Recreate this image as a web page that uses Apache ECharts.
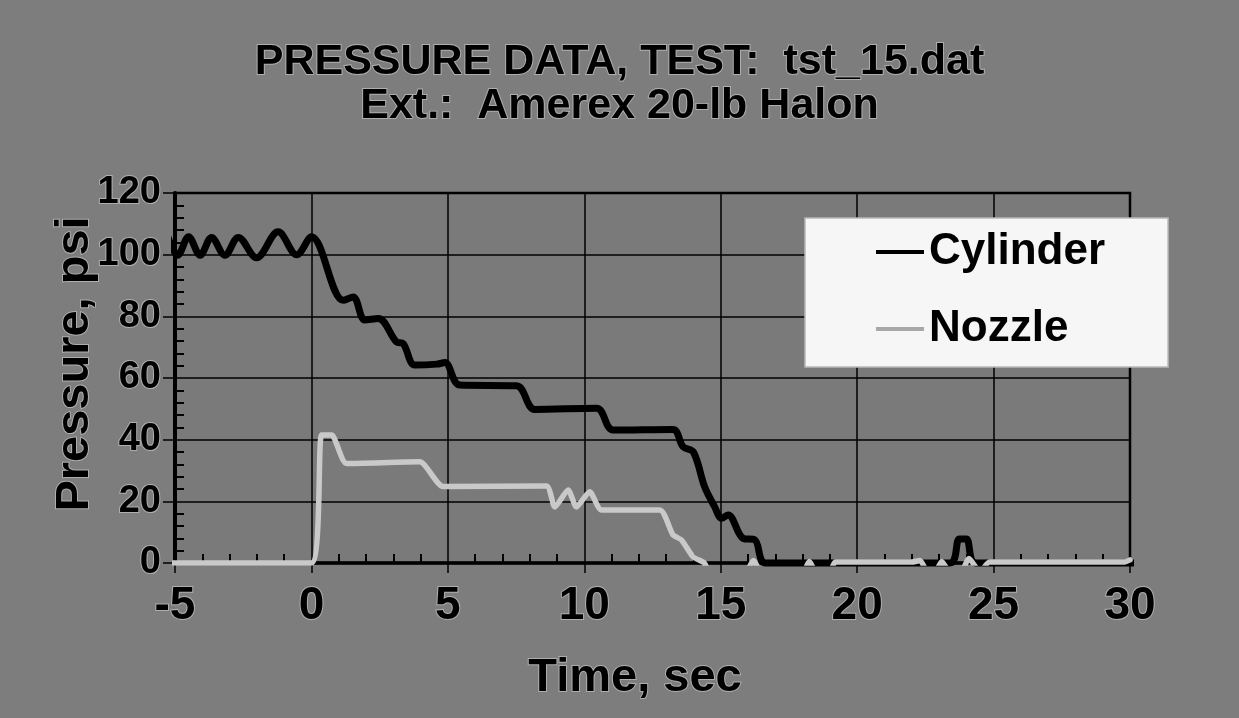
<!DOCTYPE html>
<html>
<head>
<meta charset="utf-8">
<script src="https://cdn.jsdelivr.net/npm/echarts@6/dist/echarts.min.js"></script>
<style>
html,body{margin:0;padding:0;background:#7d7d7d;}
#c{width:1239px;height:718px;}
</style>
</head>
<body>
<div id="c"></div>
<script>
// ---- data ----
const titleLines = ['PRESSURE DATA, TEST:  tst_15.dat', 'Ext.:  Amerex 20-lb Halon'];
const seriesNames = ['Cylinder', 'Nozzle'];
const xTicks = [-5, 0, 5, 10, 15, 20, 25, 30];
const yTicks = [0, 20, 40, 60, 80, 100, 120];

const cylTime = [-5.25, -4.9, -4.5, -4.08, -3.66, -3.17, -2.68, -2.01, -1.22, -0.54, 0.0,
  1.17, 1.53, 1.96, 2.45, 3.12, 3.36, 3.79, 4.6, 4.89, 5.44, 7.52, 8.19, 10.45, 11.06,
  13.25, 13.62, 14.0, 14.41, 14.78, 15.03, 15.27, 15.82, 16.25, 16.65, 23.4, 23.75, 24.0, 24.35, 30.2];
const cylPressure = [105.5, 99.8, 105.8, 99.8, 105.6, 99.8, 105.6, 99.0, 107.4, 100.0, 105.8,
  85.2, 86.3, 78.8, 79.3, 71.7, 71.2, 64.2, 64.5, 65.0, 57.7, 57.5, 49.8, 50.2, 43.1,
  43.3, 37.7, 36.0, 24.7, 18.2, 14.5, 15.6, 8.0, 7.5, 0, 0, 7.8, 7.8, 0, 0];

const nozTime = [-5.25, 0.0, 0.37, 0.74, 1.29, 3.97, 4.83, 8.61, 8.92, 9.41, 9.71, 10.2, 10.63,
  12.77, 13.25, 13.56, 13.99, 14.4, 14.6, 15.9, 16.2, 16.5, 18.0, 18.25, 18.5, 19.0, 19.2,
  22.0, 22.3, 22.6, 22.85, 23.1, 23.4, 23.8, 24.1, 24.5, 24.85, 29.8, 30.0];
const nozPressure = [0, 0, 41.5, 41.5, 32.3, 32.8, 24.8, 25.0, 18.2, 23.7, 18.2, 23.1, 17.2,
  17.2, 9.1, 7.5, 2.0, 0, -3, -3, 0.8, -3, -3, 0.5, -3, -3, 0.3,
  0.3, 0.8, -3, -3, 0.5, -3, -3, 1.5, -3, 0.3, 0.3, 1.0];

// ---- chart ----
const FONT = "'Liberation Sans', Arial, Helvetica, sans-serif";
const halo = { textBorderColor: 'rgba(215,215,215,0.55)', textBorderWidth: 2 };
const zip = (a, b) => a.map((v, i) => [v, b[i]]);

const chart = echarts.init(document.getElementById('c'), null, { renderer: 'canvas' });
chart.setOption({
  animation: false,
  backgroundColor: '#7d7d7d',
  title: {
    text: titleLines.join('\n'),
    left: 'center',
    top: 40,
    padding: 0,
    textStyle: Object.assign({ fontFamily: FONT, fontWeight: 'bold', fontSize: 43, lineHeight: 44, color: '#000' }, halo)
  },
  legend: {
    orient: 'vertical',
    left: 805,
    top: 218,
    backgroundColor: '#f6f6f6',
    borderColor: '#b8b8b8',
    borderWidth: 1.5,
    borderRadius: 0,
    padding: [9, 63, 13, 71],
    itemGap: 27,
    itemWidth: 48,
    itemHeight: 4,
    icon: 'rect',
    textStyle: { fontFamily: FONT, fontWeight: 'bold', fontSize: 44, lineHeight: 50, color: '#000' },
    data: [
      { name: seriesNames[0], itemStyle: { color: '#000' } },
      { name: seriesNames[1], itemStyle: { color: '#a8a8a8' } }
    ]
  },
  grid: {
    left: 175, right: 109, top: 193, bottom: 155,
    show: true, backgroundColor: '#7a7a7a', borderColor: '#000', borderWidth: 2.5
  },
  xAxis: [{
    type: 'value', min: xTicks[0], max: xTicks[xTicks.length - 1], interval: 5,
    name: 'Time, sec', nameLocation: 'middle', nameGap: 92, nameMoveOverlap: false,
    nameTextStyle: Object.assign({ fontFamily: FONT, fontWeight: 'bold', fontSize: 47, color: '#000', padding: [0, 35, 0, 0] }, halo),
    axisLine: { show: true, onZero: false, lineStyle: { color: '#000', width: 3.5 } },
    axisTick: { show: true, length: 10, lineStyle: { color: '#000', width: 1.5 } },
    axisLabel: Object.assign({ fontFamily: FONT, fontWeight: 'bold', fontSize: 46, color: '#000', margin: 20 }, halo),
    splitLine: { show: true, lineStyle: { color: '#000', width: 1.5 } }
  }, {
    type: 'value', min: xTicks[0], max: xTicks[xTicks.length - 1], interval: 5, position: 'bottom',
    axisLine: { show: false, onZero: false }, axisLabel: { show: false }, splitLine: { show: false },
    axisTick: { show: false, inside: true },
    minorTick: { show: true, splitNumber: 5, length: 9, lineStyle: { color: '#000', width: 2 } }
  }],
  yAxis: [{
    type: 'value', min: yTicks[0], max: yTicks[yTicks.length - 1], interval: 20,
    name: 'Pressure, psi', nameLocation: 'middle', nameGap: 76, nameMoveOverlap: false,
    nameTextStyle: Object.assign({ fontFamily: FONT, fontWeight: 'bold', fontSize: 47, color: '#000', padding: [0, 0, 0, 28] }, halo),
    axisLine: { show: true, onZero: false, lineStyle: { color: '#000', width: 4 } },
    axisTick: { show: true, length: 12, lineStyle: { color: '#000', width: 1.5 } },
    axisLabel: Object.assign({ fontFamily: FONT, fontWeight: 'bold', fontSize: 38, color: '#000', margin: 14 }, halo),
    splitLine: { show: true, lineStyle: { color: '#000', width: 1.5 } }
  }, {
    type: 'value', min: yTicks[0], max: yTicks[yTicks.length - 1], interval: 20, position: 'left',
    axisLine: { show: false, onZero: false }, axisLabel: { show: false }, splitLine: { show: false },
    axisTick: { show: false, inside: true },
    minorTick: { show: true, splitNumber: 5, length: 9, lineStyle: { color: '#000', width: 2 } }
  }],
  series: [{
    name: seriesNames[0], type: 'line', xAxisIndex: 0, yAxisIndex: 0,
    data: zip(cylTime, cylPressure),
    showSymbol: false, symbol: 'none', smooth: 0.35, clip: false,
    lineStyle: { color: '#000', width: 7, cap: 'round', join: 'round' },
    itemStyle: { color: '#000' }, z: 3
  }, {
    name: seriesNames[1], type: 'line', xAxisIndex: 0, yAxisIndex: 0,
    data: zip(nozTime, nozPressure),
    showSymbol: false, symbol: 'none', smooth: 0.2, clip: true,
    lineStyle: { color: '#c9c9c9', width: 5.5, cap: 'round', join: 'round' },
    itemStyle: { color: '#c9c9c9' }, z: 4
  }]
});
</script>
</body>
</html>
